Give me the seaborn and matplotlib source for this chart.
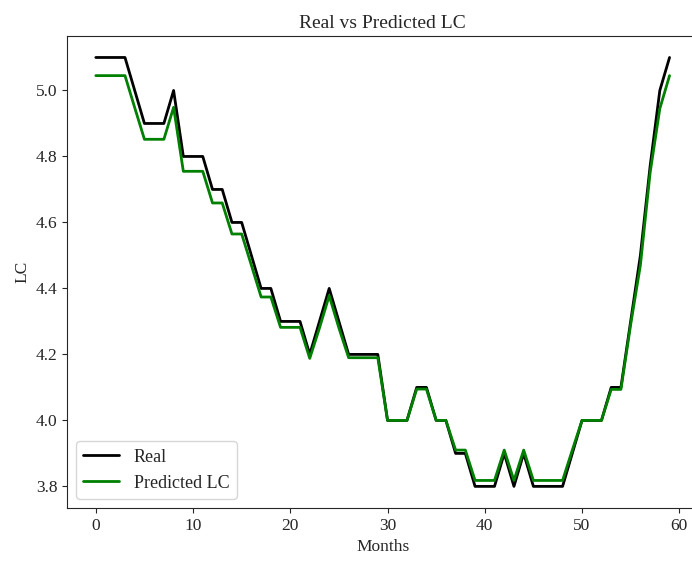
import numpy as np
import pandas as pd
import matplotlib
matplotlib.use("Agg")
import matplotlib.pyplot as plt
import seaborn as sns

months = list(range(60))

real_lc = [5.1, 5.1, 5.1, 5.1, 5.0, 4.9, 4.9, 4.9, 5.0, 4.8,
           4.8, 4.8, 4.7, 4.7, 4.6, 4.6, 4.5, 4.4, 4.4, 4.3,
           4.3, 4.3, 4.2, 4.3, 4.4, 4.3, 4.2, 4.2, 4.2, 4.2,
           4.0, 4.0, 4.0, 4.1, 4.1, 4.0, 4.0, 3.9, 3.9, 3.8,
           3.8, 3.8, 3.9, 3.8, 3.9, 3.8, 3.8, 3.8, 3.8, 3.9,
           4.0, 4.0, 4.0, 4.1, 4.1, 4.3, 4.5, 4.77, 5.0, 5.1]

predicted_lc = [5.045, 5.045, 5.045, 5.045, 4.948, 4.852, 4.852, 4.852, 4.949, 4.755,
                4.755, 4.755, 4.659, 4.659, 4.565, 4.565, 4.47, 4.374, 4.374, 4.282,
                4.282, 4.282, 4.188, 4.28, 4.378, 4.28, 4.19, 4.19, 4.19, 4.19,
                4.0, 4.0, 4.0, 4.095, 4.095, 4.0, 4.0, 3.91, 3.91, 3.818,
                3.818, 3.818, 3.91, 3.818, 3.91, 3.818, 3.818, 3.818, 3.818, 3.91,
                4.0, 4.0, 4.0, 4.094, 4.094, 4.29, 4.47, 4.75, 4.945, 5.045]

df = pd.DataFrame({"Months": months, "Real": real_lc, "Predicted LC": predicted_lc})

sns.set_style("ticks")
plt.rcParams["font.family"] = ["Liberation Serif", "DejaVu Serif"]
plt.rcParams["font.size"] = 12.5

fig, ax = plt.subplots(figsize=(6.92, 5.63), dpi=100)
sns.lineplot(data=df, x="Months", y="Real", color="black", linewidth=2, label="Real", ax=ax)
sns.lineplot(data=df, x="Months", y="Predicted LC", color="green", linewidth=2,
             label="Predicted LC", ax=ax)

ax.set_title("Real vs Predicted LC", fontsize=14)
ax.set_xlabel("Months", fontsize=12.5)
ax.set_ylabel("LC", fontsize=12.5)
ax.tick_params(labelsize=12.5)
ax.legend(loc="lower left", fontsize=13)

fig.subplots_adjust(left=0.097, right=1.009, top=0.936, bottom=0.098)
fig.savefig("out.png", dpi=100)
